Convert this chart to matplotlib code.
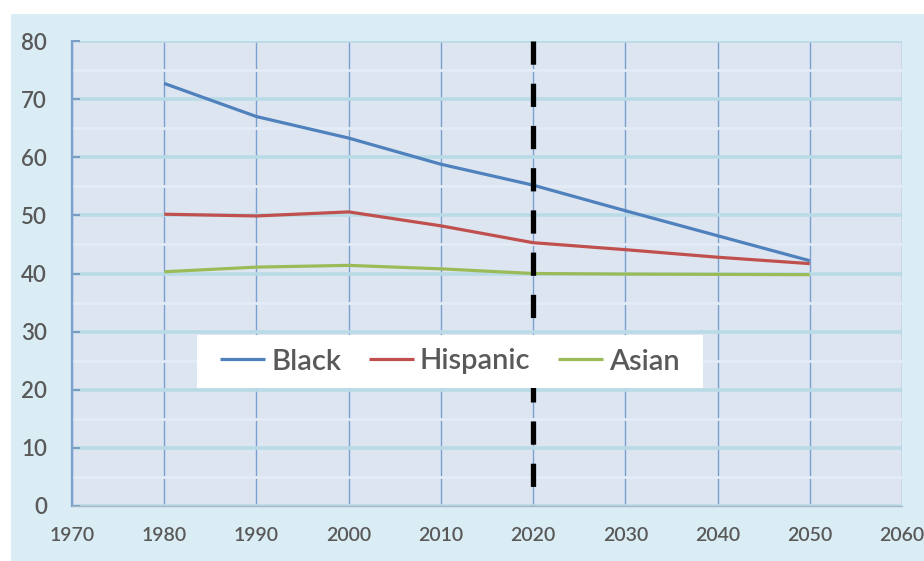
import matplotlib
matplotlib.use("Agg")
import matplotlib.pyplot as plt
from matplotlib.patches import Rectangle

years = [1980, 1990, 2000, 2010, 2020, 2030, 2040, 2050]
black = [72.7, 67.0, 63.3, 58.8, 55.2, 50.8, 46.5, 42.2]
hispanic = [50.2, 49.9, 50.6, 48.2, 45.3, 44.1, 42.8, 41.7]
asian = [40.3, 41.1, 41.4, 40.8, 40.0, 39.9, 39.85, 39.8]
series_names = ["Black", "Hispanic", "Asian"]
series_colors = ["#4F81BD", "#C0504D", "#9BBB59"]
x_ticks = list(range(1970, 2061, 10))
y_ticks = list(range(0, 81, 10))
divider_year = 2020

plt.rcParams['font.family'] = ['Lato', 'DejaVu Sans']

fig = plt.figure(figsize=(9.24, 5.61), dpi=100)
fig.patch.set_facecolor("white")
fig.patches.append(Rectangle((11/924, 0), 1 - 11/924, 1 - 14/561,
                             transform=fig.transFigure, facecolor="#daecf4",
                             edgecolor="none", zorder=-10))

ax = fig.add_axes([72/924, 55/561, 830/924, 465/561])
ax.set_zorder(1)
ax.set_facecolor("#dde5f1")

ax.set_xlim(1970, 2060)
ax.set_ylim(0, 80)
ax.set_xticks(x_ticks)
ax.set_yticks(y_ticks)
ax.set_yticks(list(range(5, 80, 10)), minor=True)

ax.grid(axis='y', which='major', color="#b8dbe6", linewidth=2.6, zorder=1)
ax.grid(axis='y', which='minor', color="#e3ecf6", linewidth=2.0, zorder=1)
ax.grid(axis='x', which='major', color="#7b9fcf", linewidth=1.0, zorder=1)
ax.set_axisbelow(True)

for s in ['top', 'right']:
    ax.spines[s].set_visible(False)
ax.spines['left'].set_color("#7b9fcf")
ax.spines['left'].set_linewidth(1.6)
ax.spines['bottom'].set_color("#a9b6c8")
ax.spines['bottom'].set_linewidth(1.0)

ax.tick_params(axis='y', which='major', direction='in', length=6, width=1.2,
               color="#6f8fb8", labelsize=16, labelcolor="#595959", pad=18)
ax.tick_params(axis='y', which='minor', length=0)
ax.tick_params(axis='x', which='major', length=0, labelsize=14,
               labelcolor="#595959", pad=15)
for lab in ax.get_xticklabels() + ax.get_yticklabels():
    lab.set_fontweight('semibold')

lines = []
for vals, name, col in zip([black, hispanic, asian], series_names, series_colors):
    ln, = ax.plot(years, vals, color=col, linewidth=2.3, label=name, zorder=3,
                  solid_capstyle='butt')
    lines.append(ln)

ylo, yhi = ax.get_ylim()
ax.plot([divider_year, divider_year], [yhi, ylo], color="black", linewidth=3.8,
        linestyle=(0, (4.4, 3.6)), zorder=4, solid_capstyle='butt',
        dash_capstyle='butt')

x0 = (197 - 72) / 830
y0 = (506 - 388) / 465
w = (703 - 197) / 830
h = (388 - 335) / 465
ax.add_patch(Rectangle((x0, y0), w, h, transform=ax.transAxes,
                       facecolor="white", edgecolor="none", zorder=6))
leg = ax.legend(handles=lines, loc='center', bbox_to_anchor=(x0, y0, w, h),
                ncol=3, frameon=False, fontsize=21,
                handlelength=1.55, handletextpad=0.2, columnspacing=0.95,
                borderpad=0.0, labelcolor="#595959",
                prop={'weight': 'semibold', 'size': 21})
leg.set_zorder(10)
for lh in leg.get_lines():
    lh.set_linewidth(2.3)

fig.savefig("out.png", dpi=100, facecolor=fig.get_facecolor())
